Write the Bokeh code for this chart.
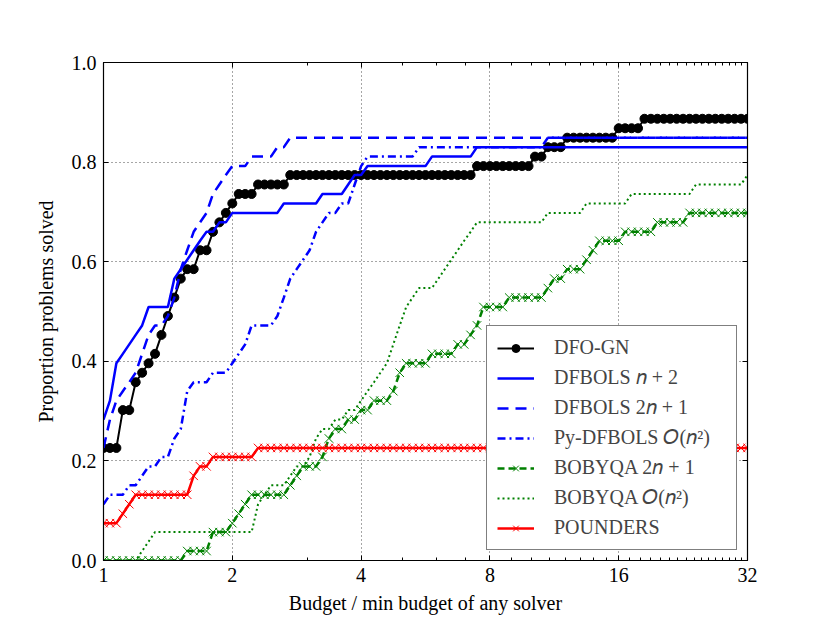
import numpy as np
from bokeh.plotting import figure
from bokeh.models import (LogAxis, LinearAxis, FixedTicker, Legend, LegendItem,
                          Range1d, ColumnDataSource)
from bokeh.embed import file_html
from bokeh.resources import INLINE

# ---------------- data ----------------
# budget sampling grid used by the profile (log-spaced between 1 and 32)
budget_grid = 2.0 ** np.linspace(0, 5, 101)

x_ticks = [1, 2, 4, 8, 16, 32]
x_tick_labels = ["1", "2", "4", "8", "16", "32"]
x_minor_ticks = [3, 5, 6, 7, 9, 10, 11, 12, 13, 14, 15, 17, 18, 19, 20, 21, 22,
                 23, 24, 25, 26, 27, 28, 29, 30, 31]
y_ticks = [0.0, 0.2, 0.4, 0.6, 0.8, 1.0]
y_tick_labels = ["0.0", "0.2", "0.4", "0.6", "0.8", "1.0"]

# step data: budget at which each proportion of problems is first reached
dfogn_budget = [1.0, 1.109, 1.189, 1.231, 1.274, 1.319, 1.366, 1.414, 1.464, 1.515,
                1.569, 1.681, 1.802, 1.866, 1.931, 2.0, 2.07, 2.297, 2.732, 7.464,
                10.196, 10.928, 12.125, 15.455, 18.379]
dfogn_prop = [0.226, 0.302, 0.358, 0.377, 0.396, 0.415, 0.453, 0.491, 0.528, 0.566,
              0.585, 0.623, 0.660, 0.679, 0.698, 0.717, 0.736, 0.755, 0.774, 0.792,
              0.811, 0.830, 0.849, 0.868, 0.887]

dfbols_np2_budget = [1.0, 1.035, 1.071, 1.109, 1.148, 1.189, 1.231, 1.274, 1.464, 1.515,
                     1.569, 1.624, 1.681, 1.741, 1.866, 2.0, 2.639, 3.249, 3.732, 3.863,
                     4.141, 5.856, 7.464]
dfbols_np2_prop = [0.283, 0.321, 0.396, 0.415, 0.434, 0.453, 0.472, 0.509, 0.566, 0.585,
                   0.604, 0.623, 0.642, 0.660, 0.679, 0.698, 0.717, 0.736, 0.755, 0.774,
                   0.792, 0.811, 0.830]

dfbols_2np1_budget = [1.0, 1.035, 1.071, 1.109, 1.148, 1.189, 1.231, 1.274, 1.319, 1.414,
                      1.464, 1.515, 1.569, 1.624, 1.681, 1.741, 1.802, 1.866, 1.931, 2.0,
                      2.219, 2.549, 2.732]
dfbols_2np1_prop = [0.226, 0.283, 0.321, 0.340, 0.358, 0.377, 0.415, 0.453, 0.472, 0.491,
                    0.528, 0.585, 0.623, 0.660, 0.679, 0.698, 0.736, 0.755, 0.774, 0.792,
                    0.811, 0.830, 0.849]

pydfbols_budget = [1.0, 1.035, 1.148, 1.231, 1.274, 1.366, 1.464, 1.515, 1.569, 1.624,
                   1.802, 2.0, 2.07, 2.143, 2.219, 2.549, 2.639, 2.732, 2.828, 2.928,
                   3.031, 3.138, 3.249, 3.363, 3.605, 3.863, 4.0, 4.141, 5.464, 10.928]
pydfbols_prop = [0.113, 0.132, 0.151, 0.170, 0.189, 0.208, 0.245, 0.264, 0.340, 0.358,
                 0.377, 0.396, 0.415, 0.434, 0.472, 0.491, 0.528, 0.566, 0.585, 0.604,
                 0.623, 0.660, 0.679, 0.698, 0.717, 0.755, 0.792, 0.811, 0.830, 0.849]

bobyqa_2np1_budget = [1.0, 1.569, 1.802, 2.0, 2.07, 2.143, 2.219, 2.732, 2.828, 2.928,
                      3.249, 3.363, 3.482, 3.732, 4.0, 4.287, 4.756, 4.924, 5.098, 5.856,
                      6.727, 7.21, 7.464, 7.727, 8.876, 10.928, 11.313, 11.713, 13.454,
                      13.928, 14.420, 16.564, 19.698, 23.425]
bobyqa_2np1_prop = [0.0, 0.019, 0.057, 0.075, 0.094, 0.113, 0.132, 0.151, 0.170, 0.189,
                    0.208, 0.245, 0.264, 0.283, 0.302, 0.321, 0.340, 0.377, 0.396, 0.415,
                    0.434, 0.453, 0.472, 0.509, 0.528, 0.547, 0.566, 0.585, 0.604,
                    0.623, 0.642, 0.660, 0.679, 0.698]

bobyqa_on2_budget = [1.0, 1.231, 1.274, 1.319, 2.297, 2.378, 2.462, 2.732, 2.828, 3.031,
                     3.138, 3.249, 3.482, 3.732, 4.0, 4.141, 4.287, 4.438, 4.594, 4.756,
                     4.924, 5.098, 5.278, 5.464, 6.062, 6.276, 6.498, 6.727, 6.964, 7.21,
                     7.464, 10.928, 13.454, 17.148, 24.251, 32.0]
bobyqa_on2_prop = [0.0, 0.019, 0.038, 0.057, 0.113, 0.132, 0.151, 0.170, 0.189, 0.208,
                   0.245, 0.264, 0.283, 0.302, 0.321, 0.340, 0.358, 0.377, 0.396, 0.434,
                   0.472, 0.509, 0.528, 0.547, 0.566, 0.585, 0.604, 0.623, 0.642, 0.660,
                   0.679, 0.698, 0.717, 0.736, 0.755, 0.774]

pounders_budget = [1.0, 1.109, 1.148, 1.189, 1.624, 1.681, 1.802, 2.297]
pounders_prop = [0.075, 0.094, 0.113, 0.132, 0.170, 0.189, 0.208, 0.226]

labels = ["DFO-GN", "DFBOLS \U0001D45B + 2", "DFBOLS 2\U0001D45B + 1",
          "Py-DFBOLS \U0001D442(\U0001D45B\u00B2)", "BOBYQA 2\U0001D45B + 1",
          "BOBYQA \U0001D442(\U0001D45B\u00B2)", "POUNDERS"]


def sample(bx, by):
    idx = np.searchsorted(np.asarray(bx), budget_grid + 1e-9, side="right") - 1
    return np.asarray(by)[idx]


FONT = "Liberation Serif"
FS = "20px"

p = figure(x_axis_type="log", x_range=Range1d(1, 32), y_range=Range1d(0, 1),
           frame_width=644, frame_height=498,
           min_border_left=103, min_border_top=62, min_border_right=60, min_border_bottom=56,
           output_backend="svg", toolbar_location=None,
           background_fill_color="white", border_fill_color="white")
p.outline_line_color = "black"
p.outline_line_width = 1.2

xt = FixedTicker(ticks=x_ticks, minor_ticks=x_minor_ticks)
yt = FixedTicker(ticks=y_ticks, minor_ticks=[])

bottom = p.below[0]
left = p.left[0]

bottom.ticker = xt
bottom.major_label_overrides = dict(zip(x_ticks, x_tick_labels))
bottom.axis_label = "Budget / min budget of any solver"
bottom.major_label_standoff = 7
bottom.axis_label_standoff = 7

left.ticker = yt
left.major_label_overrides = dict(zip(y_ticks, y_tick_labels))
left.axis_label = "Proportion problems solved"
left.major_label_standoff = 7
left.axis_label_standoff = 12

top = LogAxis(ticker=xt, major_label_overrides={t: "" for t in x_ticks})
right = LinearAxis(ticker=yt, major_label_overrides={t: "" for t in y_ticks})
p.add_layout(top, "above")
p.add_layout(right, "right")

for ax in [bottom, left, top, right]:
    ax.major_tick_in = 5
    ax.major_tick_out = 0
    ax.minor_tick_in = 3
    ax.minor_tick_out = 0
    ax.axis_line_color = "black"
    ax.major_tick_line_color = "black"
    ax.minor_tick_line_color = "black"
    ax.major_label_text_font = FONT
    ax.axis_label_text_font = FONT
    ax.major_label_text_color = "black"
    ax.axis_label_text_color = "black"
    ax.axis_label_text_font_style = "normal"
    ax.major_label_text_font_size = FS
    ax.axis_label_text_font_size = FS

for g in [p.xgrid[0], p.ygrid[0]]:
    g.grid_line_color = "black"
    g.grid_line_dash = "1 3"
    g.grid_line_alpha = 0.7
    g.grid_line_width = 1

series = [
    (dfogn_budget, dfogn_prop, dict(color="black", width=2, dash="solid"), ("circle", 9)),
    (dfbols_np2_budget, dfbols_np2_prop, dict(color="#0000ff", width=2.5, dash="solid"), None),
    (dfbols_2np1_budget, dfbols_2np1_prop, dict(color="#0000ff", width=2.5, dash="11 7"), None),
    (pydfbols_budget, pydfbols_prop, dict(color="#0000ff", width=2.5, dash="8 4 2 4"), None),
    (bobyqa_2np1_budget, bobyqa_2np1_prop, dict(color="#008000", width=2.5, dash="7 4"), ("x", 12)),
    (bobyqa_on2_budget, bobyqa_on2_prop, dict(color="#008000", width=2, dash="2 3"), None),
    (pounders_budget, pounders_prop, dict(color="#ff0000", width=2.5, dash="solid"), ("x", 12)),
]

items = []
for (bx, by, st, mk), lab in zip(series, labels):
    src = ColumnDataSource(dict(x=budget_grid, y=sample(bx, by)))
    rs = [p.line("x", "y", source=src, line_color=st["color"], line_width=st["width"],
                 line_dash=st["dash"])]
    if mk is not None:
        if mk[0] == "circle":
            rs.append(p.scatter("x", "y", source=src, marker="circle", size=mk[1],
                                fill_color=st["color"], line_color=st["color"]))
        else:
            rs.append(p.scatter("x", "y", source=src, marker="x", size=mk[1],
                                line_color=st["color"], line_width=1))
    items.append(LegendItem(label=lab, renderers=rs))

legend = Legend(items=items, location="bottom_right", margin=10, padding=10,
                spacing=7, glyph_width=37, glyph_height=20, label_height=20,
                label_standoff=20, label_width=172,
                label_text_font=FONT, label_text_font_size=FS,
                border_line_color="black", border_line_width=1.5,
                background_fill_color="white", background_fill_alpha=1.0)
p.add_layout(legend)

open("out.html", "w").write(file_html(p, INLINE))
